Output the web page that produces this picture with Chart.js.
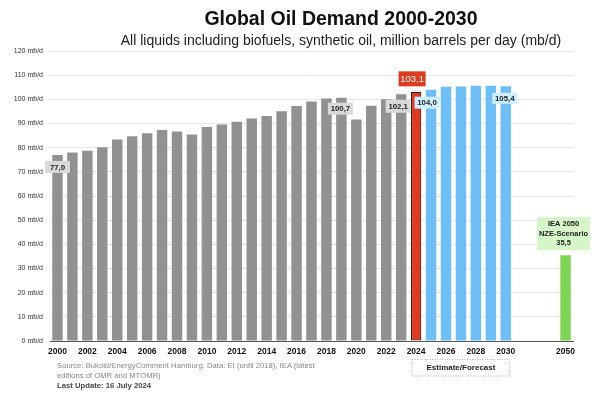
<!DOCTYPE html>
<html>
<head>
<meta charset="utf-8">
<script src="https://cdn.jsdelivr.net/npm/chart.js@4.4.1/dist/chart.umd.min.js"></script>
<style>
  html, body { margin: 0; padding: 0; background: #fff; }
  #wrap { position: relative; width: 600px; height: 395px; font-family: 'Liberation Sans', Arial, sans-serif; }
  #chart { position: absolute; left: 0; top: 0; }
  .title { position: absolute; left: 100px; width: 482px; top: 7px; text-align: center; white-space: nowrap;
           font-size: 19.5px; line-height: 22px; font-weight: bold; color: #111; }
  .subtitle { position: absolute; left: 100px; width: 482px; top: 32px; text-align: center; white-space: nowrap;
              font-size: 14px; line-height: 16px; color: #222; }
  .source { position: absolute; left: 57px; top: 361px; font-size: 7.7px; line-height: 10px; color: #888; }
  .source b { color: #444; font-size: 7.7px; }
</style>
</head>
<body>
<div id="wrap">
  <canvas id="chart" width="600" height="395"></canvas>
  <div class="title">Global Oil Demand 2000-2030</div>
  <div class="subtitle">All liquids including biofuels, synthetic oil, million barrels per day (mb/d)</div>
  <div class="source">Source: Bukold/EnergyComment Hamburg. Data: EI (until 2018), IEA (latest<br>editions of OMR and MTOMR)<br><b>Last Update: 16 July 2024</b></div>
</div>
<script>
// categories (2031-2033 are empty slots before 2050)
var categories = ['2000','2001','2002','2003','2004','2005','2006','2007','2008','2009',
                  '2010','2011','2012','2013','2014','2015','2016','2017','2018','2019',
                  '2020','2021','2022','2023','2024','2025','2026','2027','2028','2029',
                  '2030','','','','2050'];

var historyYears = ['2000','2001','2002','2003','2004','2005','2006','2007','2008','2009',
                    '2010','2011','2012','2013','2014','2015','2016','2017','2018','2019',
                    '2020','2021','2022','2023'];
var demandHistory = [77.0, 78.0, 78.7, 80.2, 83.4, 84.7, 86.0, 87.3, 86.7, 85.5,
                     88.6, 89.6, 90.7, 92.1, 93.1, 95.1, 97.2, 99.1, 100.3, 100.7,
                     91.7, 97.3, 100.0, 102.1];

var estimateYears = ['2024'];
var demandEstimate = [103.1];

var forecastYears = ['2025','2026','2027','2028','2029','2030'];
var demandForecast = [104.0, 105.2, 105.3, 105.6, 105.6, 105.4];

var nzeYears = ['2050'];
var demandNze = [35.5];

var yTicks = [0, 10, 20, 30, 40, 50, 60, 70, 80, 90, 100, 110, 120];
var shownYears = ['2000','2002','2004','2006','2008','2010','2012','2014','2016','2018',
                  '2020','2022','2024','2026','2028','2030','2050'];

var FONT = "'Liberation Sans', Arial, sans-serif";
Chart.defaults.font.family = FONT;

function pts(xs, ys) {
    return xs.map((x, i) => ({ x: x, y: ys[i] }));
}
function fmt(v) {
    return v.toFixed(1).replace('.', ',');
}

// value boxes: dataset, index, offset from bar top, style
var callouts = [
    { ds: 0, i: 0,  dx: 0,  dy: 12,  bg: '#d9d9d9', fg: '#222', font: 'bold 7.8px ' + FONT, w: 25, h: 12 },
    { ds: 0, i: 19, dx: -1, dy: 11,  bg: '#d9d9d9', fg: '#222', font: 'bold 7.8px ' + FONT, w: 25, h: 12 },
    { ds: 0, i: 23, dx: -3, dy: 12,  bg: '#d9d9d9', fg: '#222', font: 'bold 7.8px ' + FONT, w: 25, h: 13 },
    { ds: 1, i: 0,  dx: -4, dy: -13, bg: '#dd3a1f', fg: '#fff', font: '9.5px ' + FONT,      w: 27, h: 15 },
    { ds: 2, i: 0,  dx: -4, dy: 13,  bg: '#cdeefc', fg: '#222', font: 'bold 7.8px ' + FONT, w: 25, h: 12 },
    { ds: 2, i: 5,  dx: -1, dy: 12,  bg: '#cdeefc', fg: '#222', font: 'bold 7.8px ' + FONT, w: 25, h: 11 }
];

var calloutPlugin = {
    id: 'callouts',
    afterDatasetsDraw(chart) {
        let ctx = chart.ctx;
        ctx.save();
        ctx.textAlign = 'center';
        ctx.textBaseline = 'middle';
        callouts.forEach(c => {
            let bar = chart.getDatasetMeta(c.ds).data[c.i];
            let v = chart.data.datasets[c.ds].data[c.i].y;
            let cx = bar.x + c.dx, cy = bar.y + c.dy;
            ctx.fillStyle = c.bg;
            ctx.fillRect(cx - c.w / 2, cy - c.h / 2, c.w, c.h);
            ctx.fillStyle = c.fg;
            ctx.font = c.font;
            ctx.fillText(fmt(v), cx, cy + 0.5);
        });

        // IEA NZE box above the 2050 bar
        let nze = chart.getDatasetMeta(3).data[0];
        let bx = nze.x - 2, bottom = nze.y - 5;
        ctx.fillStyle = '#d6f5c8';
        ctx.fillRect(bx - 26.5, bottom - 33, 53, 33);
        ctx.fillStyle = '#222';
        ctx.font = 'bold 7.5px ' + FONT;
        ctx.fillText('IEA 2050', bx, bottom - 26);
        ctx.fillText('NZE-Scenario', bx, bottom - 16.5);
        ctx.fillText(fmt(demandNze[0]), bx, bottom - 7);

        // Estimate/Forecast bracket under the axis
        let xs = chart.scales.x;
        let l = xs.getPixelForValue(categories.indexOf('2024')) - 4;
        let r = xs.getPixelForValue(categories.indexOf('2030')) + 4;
        ctx.strokeStyle = '#999';
        ctx.lineWidth = 0.8;
        ctx.setLineDash([1, 1.5]);
        ctx.strokeRect(l, 359.5, r - l, 16.5);
        ctx.setLineDash([]);
        ctx.fillStyle = '#222';
        ctx.font = 'bold 8px ' + FONT;
        ctx.fillText('Estimate/Forecast', (l + r) / 2, 368);
        ctx.restore();
    }
};

new Chart(document.getElementById('chart'), {
    type: 'bar',
    data: {
        labels: categories,
        datasets: [
            { label: 'History',  data: pts(historyYears, demandHistory),  backgroundColor: '#919191' },
            { label: 'Estimate', data: pts(estimateYears, demandEstimate), backgroundColor: '#dd3a1f',
              borderColor: '#3a2018', borderWidth: 1.2, borderSkipped: false },
            { label: 'Forecast', data: pts(forecastYears, demandForecast), backgroundColor: '#6ebff8' },
            { label: 'IEA NZE',  data: pts(nzeYears, demandNze),          backgroundColor: '#7fd656' }
        ]
    },
    options: {
        responsive: false,
        animation: false,
        layout: { padding: { top: 51, right: 27, bottom: 0, left: 0 } },
        datasets: { bar: { grouped: false, barPercentage: 0.7, categoryPercentage: 1 } },
        plugins: {
            legend: { display: false },
            tooltip: { enabled: false }
        },
        scales: {
            x: {
                grid: { display: false, drawTicks: false },
                border: { display: true, color: '#555', width: 1 },
                ticks: {
                    autoSkip: false, maxRotation: 0, padding: 6, color: '#111',
                    font: { size: 8.5, weight: 'bold' },
                    callback: function(v) {
                        let lab = this.getLabelForValue(v);
                        return shownYears.indexOf(lab) >= 0 ? lab : '';
                    }
                },
                afterFit: function(s) { s.height = 54; }
            },
            y: {
                min: 0, max: 120,
                afterBuildTicks: function(s) { s.ticks = yTicks.map(v => ({ value: v })); },
                grid: { color: '#e6e6e6', lineWidth: 1, drawTicks: false },
                border: { display: false },
                ticks: {
                    padding: 7, color: '#333', font: { size: 7 },
                    callback: function(v) { return v + ' mb/d'; }
                },
                afterFit: function(s) { s.width = 50; }
            }
        }
    },
    plugins: [calloutPlugin]
});
</script>
</body>
</html>
